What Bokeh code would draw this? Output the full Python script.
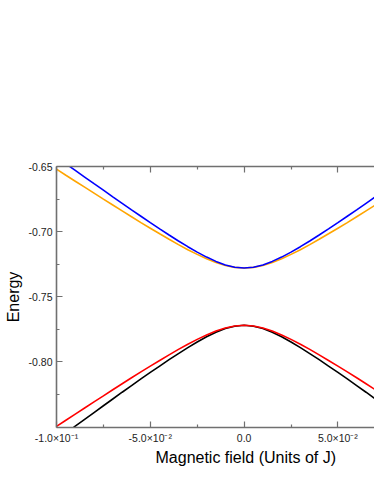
from bokeh.plotting import figure
from bokeh.models import (Range1d, LinearAxis, FixedTicker, CustomJSTickFormatter,
                          NumeralTickFormatter, Title)
from bokeh.embed import file_html
from bokeh.resources import INLINE

# ---- data ----
field = [-0.100, -0.095, -0.090, -0.085, -0.080, -0.075, -0.070, -0.065, -0.060,
         -0.055, -0.050, -0.045, -0.040, -0.035, -0.030, -0.025, -0.020, -0.015,
         -0.010, -0.005, 0.000, 0.005, 0.010, 0.015, 0.020, 0.025, 0.030, 0.035,
         0.040, 0.045, 0.050, 0.055, 0.060, 0.065, 0.070]

blue = [-0.6427, -0.6479, -0.6530, -0.6581, -0.6632, -0.6682, -0.6733, -0.6783, -0.6833,
        -0.6882, -0.6931, -0.6979, -0.7026, -0.7072, -0.7116, -0.7158, -0.7196, -0.7229,
        -0.7256, -0.7274, -0.7280, -0.7274, -0.7256, -0.7229, -0.7196, -0.7158, -0.7116,
        -0.7072, -0.7026, -0.6979, -0.6931, -0.6882, -0.6833, -0.6783, -0.6733]

orange = [-0.6520, -0.6567, -0.6613, -0.6659, -0.6705, -0.6751, -0.6796, -0.6841, -0.6886,
          -0.6931, -0.6974, -0.7017, -0.7059, -0.7100, -0.7139, -0.7175, -0.7209, -0.7238,
          -0.7260, -0.7275, -0.7280, -0.7275, -0.7260, -0.7238, -0.7209, -0.7175, -0.7139,
          -0.7100, -0.7059, -0.7017, -0.6974, -0.6931, -0.6886, -0.6841, -0.6796]

red = [-0.8497, -0.8449, -0.8402, -0.8355, -0.8308, -0.8262, -0.8215, -0.8169, -0.8123,
       -0.8078, -0.8034, -0.7990, -0.7947, -0.7905, -0.7865, -0.7828, -0.7794, -0.7764,
       -0.7741, -0.7725, -0.7720, -0.7725, -0.7741, -0.7764, -0.7794, -0.7828, -0.7865,
       -0.7905, -0.7947, -0.7990, -0.8034, -0.8078, -0.8123, -0.8169, -0.8215]

black = [-0.8600, -0.8548, -0.8495, -0.8442, -0.8390, -0.8338, -0.8286, -0.8234, -0.8183,
         -0.8132, -0.8082, -0.8033, -0.7984, -0.7937, -0.7891, -0.7848, -0.7808, -0.7773,
         -0.7745, -0.7727, -0.7720, -0.7727, -0.7745, -0.7773, -0.7808, -0.7848, -0.7891,
         -0.7937, -0.7984, -0.8033, -0.8082, -0.8132, -0.8183, -0.8234, -0.8286]

x_ticks = [-0.1, -0.05, 0.0, 0.05]
x_minor = [-0.075, -0.025, 0.025]
x_tick_labels = ["-1.0\u00d710\u207b\u00b9", "-5.0\u00d710\u207b\u00b2", "0.0", "5.0\u00d710\u207b\u00b2"]
y_ticks = [-0.80, -0.75, -0.70, -0.65]
y_minor = [-0.825, -0.775, -0.725, -0.675]

FONT = "Liberation Sans"
AX = "#707070"

p = figure(width=374, height=484, output_backend="svg", toolbar_location=None,
           x_range=Range1d(-0.1, 0.0695), y_range=Range1d(-0.8505, -0.65),
           x_axis_location=None, y_axis_location=None,
           min_border_left=56, min_border_right=0, min_border_top=166, min_border_bottom=57)
p.outline_line_color = None
p.xgrid.visible = False
p.ygrid.visible = False
p.background_fill_color = "white"
p.border_fill_color = "white"

def style(ax):
    ax.axis_line_color = AX
    ax.axis_line_width = 1.6
    ax.major_tick_line_color = AX
    ax.minor_tick_line_color = AX
    ax.major_tick_line_width = 1.2
    ax.minor_tick_line_width = 1.2
    ax.major_tick_in = 6
    ax.major_tick_out = 0
    ax.minor_tick_in = 3
    ax.minor_tick_out = 0
    ax.major_label_text_font = FONT
    ax.major_label_text_font_size = "10.5px"
    ax.major_label_text_color = "#222222"
    ax.major_label_standoff = 4
    ax.axis_label_text_font = FONT
    ax.axis_label_text_font_size = "16px"
    ax.axis_label_text_font_style = "normal"
    ax.axis_label_text_color = "black"

xfmt = CustomJSTickFormatter(args=dict(tv=x_ticks, tl=x_tick_labels), code="""
let b = 0;
for (let i = 0; i < tv.length; i++) {
  if (Math.abs(tv[i] - tick) < Math.abs(tv[b] - tick)) b = i;
}
return tl[b];
""")

xb = LinearAxis(ticker=FixedTicker(ticks=x_ticks, minor_ticks=x_minor), formatter=xfmt)
style(xb)
p.add_layout(xb, "below")

xt = LinearAxis(ticker=FixedTicker(ticks=x_ticks, minor_ticks=x_minor))
style(xt)
xt.major_label_text_alpha = 0
xt.major_label_text_font_size = "1px"
xt.major_label_standoff = 0
p.add_layout(xt, "above")

yl = LinearAxis(ticker=FixedTicker(ticks=y_ticks, minor_ticks=y_minor),
                formatter=NumeralTickFormatter(format="0.00"), axis_label="Energy")
style(yl)
yl.axis_label_standoff = 4
p.add_layout(yl, "left")

p.line(field, orange, line_color="#ffa500", line_width=1.6)
p.line(field, blue, line_color="#0000ff", line_width=1.6)
p.line(field, black, line_color="#000000", line_width=1.6)
p.line(field, red, line_color="#ff0000", line_width=1.6)

xlabel = Title(text="Magnetic field (Units of J)", align="left", offset=99,
               text_font=FONT, text_font_size="16px", text_font_style="normal",
               text_color="black", standoff=0)
p.add_layout(xlabel, "below")

open("out.html", "w").write(file_html(p, INLINE))
